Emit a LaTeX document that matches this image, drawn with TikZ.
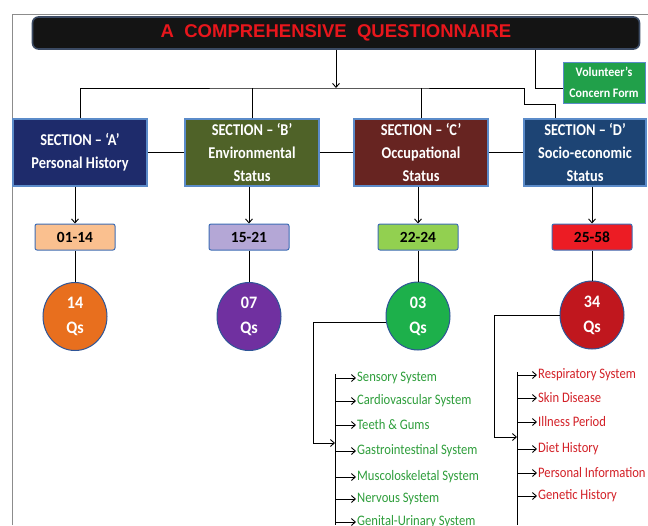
\documentclass[tikz,border=0pt]{standalone}
\usepackage{fontspec}
\setmainfont{Carlito}
\newfontfamily\ttlfont{Liberation Sans}
\newfontfamily\nfont[FakeStretch=0.87]{Carlito}
\newfontfamily\qfont[FakeStretch=0.92]{Carlito}
\usepackage{xcolor}
\usetikzlibrary{calc,positioning,arrows.meta,shapes.geometric}

\definecolor{ttlfill}{HTML}{141414}
\definecolor{ttlline}{HTML}{3B4A63}
\definecolor{ttltext}{HTML}{E8161C}
\definecolor{secA}{HTML}{1E2B6B}
\definecolor{secB}{HTML}{4F6228}
\definecolor{secC}{HTML}{672421}
\definecolor{secD}{HTML}{1D4474}
\definecolor{secline}{HTML}{5B8BC9}
\definecolor{rngA}{HTML}{FAC08F}
\definecolor{rngB}{HTML}{B4A7D6}
\definecolor{rngC}{HTML}{92D050}
\definecolor{rngD}{HTML}{EC1C24}
\definecolor{rngline}{HTML}{3E6DB5}
\definecolor{qsA}{HTML}{E86F1E}
\definecolor{qsB}{HTML}{7030A0}
\definecolor{qsC}{HTML}{1DB04B}
\definecolor{qsD}{HTML}{C0171E}
\definecolor{qsline}{HTML}{2E5597}
\definecolor{volfill}{HTML}{21A04A}
\definecolor{listC}{HTML}{2E9E3B}
\definecolor{listD}{HTML}{D32027}

\begin{document}
\begin{tikzpicture}[
    x=1pt, y=-1pt,
    ttl/.style={rectangle, rounded corners=6pt, draw=ttlline, line width=1.6pt,
                fill=ttlfill, minimum width=607pt, minimum height=32pt,
                text=ttltext, font=\ttlfont\bfseries\fontsize{18.5}{20}\selectfont},
    vol/.style={rectangle, draw=secline, line width=0.8pt, fill=volfill,
                minimum width=82pt, minimum height=41pt, inner sep=0pt,
                align=center, text=white, font=\qfont\bfseries\fontsize{13}{21}\selectfont},
    sec/.style={rectangle, draw=secline, line width=1.2pt,
                minimum width=134pt, minimum height=67pt, inner sep=0pt,
                align=center, text=white, font=\nfont\bfseries\fontsize{16.5}{23}\selectfont},
    rng/.style={rectangle, rounded corners=2pt, draw=rngline, line width=1pt,
                minimum width=80pt, minimum height=26pt, inner sep=0pt,
                font=\bfseries\fontsize{15.5}{18}\selectfont},
    qs/.style={ellipse, draw=qsline, line width=1pt, inner sep=0pt,
               minimum width=64pt, minimum height=68pt, align=center,
               text=white, font=\qfont\bfseries\fontsize{17.5}{25}\selectfont},
    itm/.style={anchor=west, inner sep=1pt, font=\nfont\fontsize{14.5}{16}\selectfont},
    arr/.style={-{Straight Barb[length=4pt,width=7pt]}, line width=0.9pt},
    ln/.style={line width=0.9pt}
]
\useasboundingbox (0,0) rectangle (648,525);
\fill[white] (0,0) rectangle (648,525);
\draw[black!45, line width=1pt] (12,525) -- (12,14) -- (648,14);

\node[ttl]                          (ttl)  at (336,33)    {A\ \ COMPREHENSIVE\ \ QUESTIONNAIRE};
\node[vol]                          (vol)  at (604,82.5)  {Volunteer’s\\Concern Form};
\node[sec, fill=secA]               (secA) at (80,152.5)  {SECTION – ‘A’\\Personal History};
\node[sec, fill=secB]               (secB) at (252,152.5) {SECTION – ‘B’\\Environmental\\Status};
\node[sec, fill=secC]               (secC) at (421,152.5) {SECTION – ‘C’\\Occupational\\Status};
\node[sec, fill=secD, minimum width=122pt] (secD) at (585,152.5) {SECTION – ‘D’\\Socio-economic\\Status};

\node[rng, fill=rngA]               (rngA) at (75,237)  {01-14};
\node[rng, fill=rngB]               (rngB) at (249,237) {15-21};
\node[rng, fill=rngC]               (rngC) at (418,237) {22-24};
\node[rng, fill=rngD]               (rngD) at (592,237) {25-58};

\node[qs, fill=qsA]                 (qsA)  at (75,316.5)  {14\\Qs};
\node[qs, fill=qsB]                 (qsB)  at (249,316.5) {07\\Qs};
\node[qs, fill=qsC]                 (qsC)  at (418,316)   {03\\Qs};
\node[qs, fill=qsD]                 (qsD)  at (592,315)   {34\\Qs};

\coordinate (bus)  at (336,88);
\coordinate (busR) at (524,88);
\coordinate (vk)   at (535,88);
\coordinate (cK)   at (313,443);
\coordinate (cB)   at (335,443);
\coordinate (dK)   at (494,437);
\coordinate (dB)   at (517,437);

\draw[arr] (ttl.south) -- (bus);
\draw[ln]  (ttl.south -| vk) -- (vk) -- (vol.west |- vk);
\draw[ln]  (secA.north) |- (bus) -- (busR) -- ++(0,16) -| ([xshift=-30pt]secD.north);
\draw[ln]  (secB.north) -- (secB.north |- bus);
\draw[ln]  (secC.north) -- (secC.north |- bus);
\draw[ln]  (secA) -- (secB);
\draw[ln]  (secB) -- (secC);
\draw[ln]  (secC) -- (secD);

\draw[arr] (secA.south -| rngA) -- (rngA);
\draw[arr] (secB.south -| rngB) -- (rngB);
\draw[arr] (secC.south -| rngC) -- (rngC);
\draw[arr] (secD.south -| rngD) -- (rngD);
\draw[ln]  (rngA) -- (qsA);
\draw[ln]  (rngB) -- (qsB);
\draw[ln]  (rngC) -- (qsC);
\draw[ln]  (rngD) -- (qsD);

\draw[arr] (qsC.192) -| (cK) -- (cB);
\draw[ln]  (335,374) -- (335,525);
\foreach \y/\t [count=\i] in {378/Sensory System, 401/Cardiovascular System,
    425/Teeth \& Gums, 451/Gastrointestinal System, 477/Muscoloskeletal System,
    499/Nervous System, 522/Genital-Urinary System}{
  \node[itm, text=listC] (c\i) at (356,\y) {\t};
  \coordinate (cb\i) at (335,\y);
  \draw[arr] (cb\i) -- (c\i.west);
}

\draw[arr] (qsD.west) -| (dK) -- (dB);
\draw[ln]  (517,372) -- (517,525);
\foreach \y/\t [count=\i] in {375/Respiratory System, 398/Skin Disease,
    422/Illness Period, 449/Diet History, 473/Personal Information,
    496/Genetic History}{
  \node[itm, text=listD] (d\i) at (537,\y) {\t};
  \coordinate (db\i) at (517,\y);
  \draw[arr] (db\i) -- (d\i.west);
}
\end{tikzpicture}
\end{document}
